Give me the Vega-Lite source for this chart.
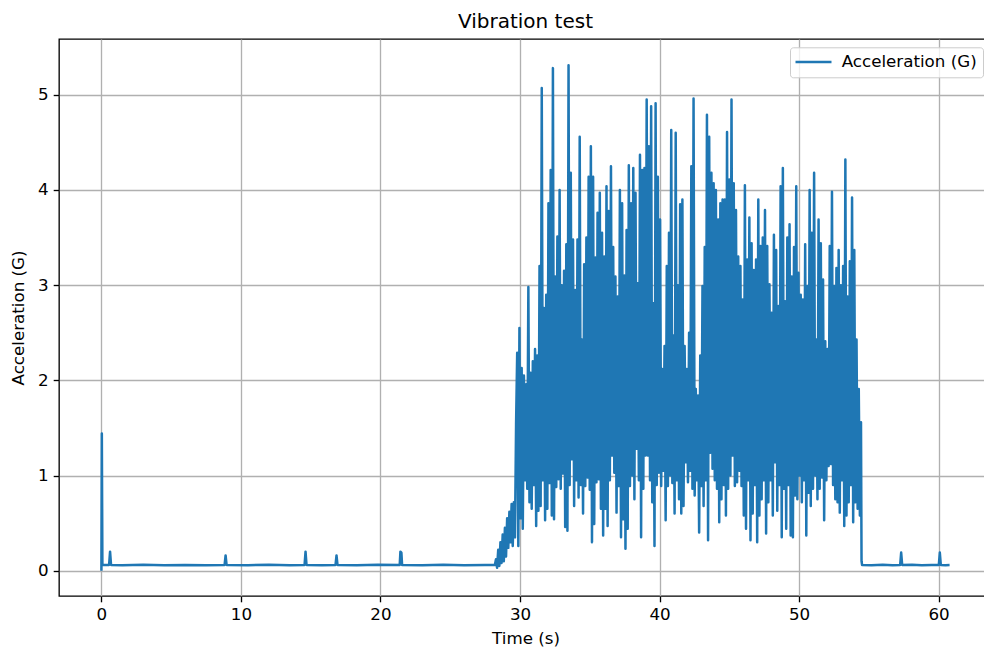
{
"$schema": "https://vega.github.io/schema/vega-lite/v6.json",
"autosize": {"type": "none"},
"padding": {"left": 59, "top": 39, "right": 0, "bottom": 51},
"width": 933,
"height": 557,
"title": {"text": "Vibration test", "fontSize": 20, "fontWeight": "normal", "font": "DejaVu Sans", "color": "#000000", "offset": 10, "baseline": "alphabetic", "anchor": "middle", "frame": "group", "dy": 19},
"data": {"values": [
{"t":0.0,"a":0.0},{"t":0.03,"a":1.44},{"t":0.07,"a":0.06},{"t":0.55,"a":0.06},{"t":0.62,"a":0.2},{"t":0.69,"a":0.06},
{"t":1.5,"a":0.058},{"t":3.0,"a":0.062},{"t":4.5,"a":0.057},{"t":6.0,"a":0.061},{"t":7.5,"a":0.058},
{"t":8.83,"a":0.06},{"t":8.9,"a":0.16},{"t":8.97,"a":0.06},{"t":10.5,"a":0.058},{"t":12.0,"a":0.062},{"t":13.5,"a":0.058},
{"t":14.56,"a":0.06},{"t":14.63,"a":0.2},{"t":14.7,"a":0.06},{"t":15.8,"a":0.058},{"t":16.78,"a":0.06},{"t":16.85,"a":0.16},{"t":16.92,"a":0.06},
{"t":18.3,"a":0.058},{"t":19.8,"a":0.062},{"t":21.38,"a":0.06},{"t":21.43,"a":0.2},{"t":21.5,"a":0.19},{"t":21.55,"a":0.06},
{"t":23.0,"a":0.058},{"t":24.5,"a":0.062},{"t":26.0,"a":0.058},{"t":27.5,"a":0.061},{"t":28.2,"a":0.06},
{"t":28.28,"a":0.12},{"t":28.36,"a":0.03},{"t":28.44,"a":0.22},{"t":28.52,"a":0.05},{"t":28.6,"a":0.3},{"t":28.68,"a":0.08},
{"t":28.76,"a":0.38},{"t":28.84,"a":0.1},{"t":28.92,"a":0.45},{"t":29.0,"a":0.15},{"t":29.08,"a":0.55},{"t":29.16,"a":0.24},
{"t":29.24,"a":0.62},{"t":29.32,"a":0.3},{"t":29.4,"a":0.7},{"t":29.48,"a":0.26},{"t":29.56,"a":0.72},{"t":29.64,"a":0.35},{"t":29.72,"a":1.54},
{"t":29.8,"a":2.29},{"t":29.88,"a":0.26},{"t":29.96,"a":2.55},{"t":30.04,"a":0.55},{"t":30.12,"a":2.13},{"t":30.2,"a":0.44},
{"t":30.28,"a":2.05},{"t":30.36,"a":0.95},{"t":30.44,"a":1.96},{"t":30.52,"a":0.86},{"t":30.6,"a":2.98},{"t":30.68,"a":0.72},
{"t":30.76,"a":2.08},{"t":30.84,"a":0.65},{"t":30.92,"a":2.2},{"t":31.0,"a":0.9},{"t":31.08,"a":2.33},{"t":31.16,"a":0.47},
{"t":31.24,"a":2.26},{"t":31.32,"a":0.63},{"t":31.4,"a":3.2},{"t":31.48,"a":0.68},{"t":31.56,"a":5.07},{"t":31.64,"a":0.95},
{"t":31.72,"a":2.76},{"t":31.8,"a":0.53},{"t":31.88,"a":2.9},{"t":31.96,"a":0.65},{"t":32.04,"a":3.86},{"t":32.12,"a":0.92},
{"t":32.2,"a":4.21},{"t":32.28,"a":0.58},{"t":32.36,"a":5.28},{"t":32.44,"a":0.54},{"t":32.52,"a":3.09},{"t":32.6,"a":0.88},
{"t":32.68,"a":3.51},{"t":32.76,"a":0.96},{"t":32.84,"a":4.0},{"t":32.92,"a":0.86},{"t":33.0,"a":3.0},{"t":33.08,"a":1.02},
{"t":33.16,"a":3.15},{"t":33.24,"a":0.46},{"t":33.32,"a":3.43},{"t":33.4,"a":0.42},{"t":33.48,"a":5.31},{"t":33.56,"a":0.9},
{"t":33.64,"a":4.18},{"t":33.72,"a":1.17},{"t":33.8,"a":3.48},{"t":33.88,"a":0.68},{"t":33.96,"a":2.95},{"t":34.04,"a":0.95},
{"t":34.12,"a":3.48},{"t":34.2,"a":0.77},{"t":34.28,"a":4.56},{"t":34.36,"a":0.9},{"t":34.44,"a":2.43},{"t":34.52,"a":0.6},
{"t":34.6,"a":3.22},{"t":34.68,"a":0.89},{"t":34.76,"a":3.5},{"t":34.84,"a":0.98},{"t":34.92,"a":4.14},{"t":35.0,"a":0.85},
{"t":35.08,"a":4.46},{"t":35.16,"a":0.3},{"t":35.24,"a":4.14},{"t":35.32,"a":0.49},{"t":35.4,"a":3.29},{"t":35.48,"a":0.93},
{"t":35.56,"a":3.76},{"t":35.64,"a":0.96},{"t":35.72,"a":3.97},{"t":35.8,"a":0.65},{"t":35.88,"a":3.55},{"t":35.96,"a":0.37},
{"t":36.04,"a":3.3},{"t":36.12,"a":0.65},{"t":36.2,"a":4.04},{"t":36.28,"a":0.47},{"t":36.36,"a":3.78},{"t":36.44,"a":0.95},
{"t":36.52,"a":4.25},{"t":36.6,"a":1.21},{"t":36.68,"a":3.4},{"t":36.76,"a":1.03},{"t":36.84,"a":3.09},{"t":36.92,"a":0.61},
{"t":37.0,"a":2.88},{"t":37.08,"a":0.89},{"t":37.16,"a":4.0},{"t":37.24,"a":0.35},{"t":37.32,"a":3.86},{"t":37.4,"a":0.54},
{"t":37.48,"a":3.1},{"t":37.56,"a":0.23},{"t":37.64,"a":3.58},{"t":37.72,"a":0.44},{"t":37.8,"a":4.26},{"t":37.88,"a":0.89},
{"t":37.96,"a":3.86},{"t":38.04,"a":1.0},{"t":38.12,"a":4.23},{"t":38.2,"a":0.75},{"t":38.28,"a":3.97},{"t":38.36,"a":1.28},
{"t":38.44,"a":3.02},{"t":38.52,"a":0.95},{"t":38.6,"a":4.37},{"t":38.68,"a":0.35},{"t":38.76,"a":4.21},{"t":38.84,"a":0.86},
{"t":38.92,"a":4.23},{"t":39.0,"a":1.21},{"t":39.08,"a":4.95},{"t":39.16,"a":1.21},{"t":39.24,"a":4.46},{"t":39.32,"a":0.95},
{"t":39.4,"a":4.88},{"t":39.48,"a":0.72},{"t":39.56,"a":2.81},{"t":39.64,"a":0.26},{"t":39.72,"a":4.91},{"t":39.8,"a":0.9},
{"t":39.88,"a":4.14},{"t":39.96,"a":1.03},{"t":40.04,"a":3.69},{"t":40.12,"a":0.89},{"t":40.2,"a":2.12},{"t":40.28,"a":1.05},
{"t":40.36,"a":2.36},{"t":40.44,"a":0.53},{"t":40.52,"a":3.2},{"t":40.6,"a":0.89},{"t":40.68,"a":3.55},{"t":40.76,"a":1.0},
{"t":40.84,"a":4.63},{"t":40.92,"a":0.92},{"t":41.0,"a":2.47},{"t":41.08,"a":0.6},{"t":41.16,"a":4.6},{"t":41.24,"a":0.95},
{"t":41.32,"a":3.0},{"t":41.4,"a":0.75},{"t":41.48,"a":3.85},{"t":41.56,"a":0.6},{"t":41.64,"a":3.9},{"t":41.72,"a":0.68},
{"t":41.8,"a":2.36},{"t":41.88,"a":1.14},{"t":41.96,"a":2.12},{"t":42.04,"a":0.93},{"t":42.12,"a":2.5},{"t":42.2,"a":1.05},
{"t":42.28,"a":4.25},{"t":42.36,"a":0.86},{"t":42.44,"a":4.96},{"t":42.52,"a":0.79},{"t":42.6,"a":1.91},{"t":42.68,"a":0.95},
{"t":42.76,"a":1.84},{"t":42.84,"a":0.4},{"t":42.92,"a":2.26},{"t":43.0,"a":0.89},{"t":43.08,"a":2.99},{"t":43.16,"a":0.68},
{"t":43.24,"a":3.4},{"t":43.32,"a":0.95},{"t":43.4,"a":4.79},{"t":43.48,"a":0.32},{"t":43.56,"a":4.56},{"t":43.64,"a":1.24},
{"t":43.72,"a":4.18},{"t":43.8,"a":1.07},{"t":43.88,"a":4.07},{"t":43.96,"a":0.95},{"t":44.04,"a":4.0},{"t":44.12,"a":0.86},
{"t":44.2,"a":3.69},{"t":44.28,"a":0.51},{"t":44.36,"a":3.86},{"t":44.44,"a":0.75},{"t":44.52,"a":3.9},{"t":44.6,"a":0.9},
{"t":44.68,"a":3.9},{"t":44.76,"a":0.58},{"t":44.84,"a":4.61},{"t":44.92,"a":0.86},{"t":45.0,"a":4.11},{"t":45.08,"a":1.0},
{"t":45.16,"a":4.95},{"t":45.24,"a":1.21},{"t":45.32,"a":4.07},{"t":45.4,"a":0.89},{"t":45.48,"a":3.79},{"t":45.56,"a":0.93},
{"t":45.64,"a":3.3},{"t":45.72,"a":1.05},{"t":45.8,"a":3.2},{"t":45.88,"a":0.89},{"t":45.96,"a":2.85},{"t":46.04,"a":0.58},
{"t":46.12,"a":4.05},{"t":46.2,"a":0.44},{"t":46.28,"a":3.27},{"t":46.36,"a":0.95},{"t":46.44,"a":3.71},{"t":46.52,"a":0.32},
{"t":46.6,"a":3.44},{"t":46.68,"a":0.6},{"t":46.76,"a":3.16},{"t":46.84,"a":0.9},{"t":46.92,"a":3.27},{"t":47.0,"a":0.3},
{"t":47.08,"a":3.9},{"t":47.16,"a":0.58},{"t":47.24,"a":3.41},{"t":47.32,"a":0.75},{"t":47.4,"a":3.5},{"t":47.48,"a":0.95},
{"t":47.56,"a":3.79},{"t":47.64,"a":0.39},{"t":47.72,"a":3.41},{"t":47.8,"a":0.72},{"t":47.88,"a":3.01},{"t":47.96,"a":0.95},
{"t":48.04,"a":2.71},{"t":48.12,"a":0.58},{"t":48.2,"a":3.53},{"t":48.28,"a":1.14},{"t":48.36,"a":3.37},{"t":48.44,"a":0.63},
{"t":48.52,"a":2.78},{"t":48.6,"a":0.9},{"t":48.68,"a":4.04},{"t":48.76,"a":0.35},{"t":48.84,"a":4.23},{"t":48.92,"a":0.86},
{"t":49.0,"a":2.83},{"t":49.08,"a":0.44},{"t":49.16,"a":3.5},{"t":49.24,"a":0.9},{"t":49.32,"a":3.64},{"t":49.4,"a":0.37},
{"t":49.48,"a":3.09},{"t":49.56,"a":0.35},{"t":49.64,"a":3.4},{"t":49.72,"a":0.79},{"t":49.8,"a":4.04},{"t":49.88,"a":0.75},
{"t":49.96,"a":3.13},{"t":50.04,"a":1.0},{"t":50.12,"a":2.9},{"t":50.2,"a":0.72},{"t":50.28,"a":2.85},{"t":50.36,"a":0.95},
{"t":50.44,"a":3.43},{"t":50.52,"a":0.37},{"t":50.6,"a":2.99},{"t":50.68,"a":0.82},{"t":50.76,"a":4.0},{"t":50.84,"a":0.68},
{"t":50.92,"a":3.55},{"t":51.0,"a":0.86},{"t":51.08,"a":4.18},{"t":51.16,"a":1.0},{"t":51.24,"a":2.43},{"t":51.32,"a":0.75},
{"t":51.4,"a":3.69},{"t":51.48,"a":0.86},{"t":51.56,"a":3.44},{"t":51.64,"a":0.98},{"t":51.72,"a":3.06},{"t":51.8,"a":0.53},
{"t":51.88,"a":2.41},{"t":51.96,"a":0.95},{"t":52.04,"a":2.33},{"t":52.12,"a":1.1},{"t":52.2,"a":3.41},{"t":52.28,"a":1.12},
{"t":52.36,"a":3.98},{"t":52.44,"a":0.9},{"t":52.52,"a":2.99},{"t":52.6,"a":0.75},{"t":52.68,"a":3.18},{"t":52.76,"a":0.72},
{"t":52.84,"a":3.37},{"t":52.92,"a":0.61},{"t":53.0,"a":3.0},{"t":53.08,"a":0.95},{"t":53.16,"a":3.2},{"t":53.24,"a":0.47},
{"t":53.32,"a":4.32},{"t":53.4,"a":0.58},{"t":53.48,"a":2.88},{"t":53.56,"a":0.72},{"t":53.64,"a":3.25},{"t":53.72,"a":0.9},
{"t":53.8,"a":3.92},{"t":53.88,"a":0.51},{"t":53.96,"a":3.37},{"t":54.04,"a":0.72},{"t":54.12,"a":2.43},{"t":54.2,"a":0.65},
{"t":54.28,"a":1.91},{"t":54.36,"a":0.58},{"t":54.44,"a":1.56},{"t":54.48,"a":0.1},{"t":54.52,"a":0.06},
{"t":55.2,"a":0.058},{"t":56.0,"a":0.062},{"t":56.7,"a":0.058},{"t":57.25,"a":0.06},{"t":57.32,"a":0.19},{"t":57.39,"a":0.06},
{"t":58.1,"a":0.062},{"t":58.8,"a":0.058},{"t":59.5,"a":0.061},{"t":60.02,"a":0.06},{"t":60.09,"a":0.19},{"t":60.16,"a":0.06},
{"t":60.5,"a":0.058},{"t":60.79,"a":0.06}
]},
"mark": {"type": "line", "strokeWidth": 2.5, "strokeJoin": "round", "clip": true},
"encoding": {
  "x": {"field": "t", "type": "quantitative", "scale": {"domain": [-3.04, 63.83], "nice": false, "zero": false},
        "axis": {"values": [0, 10, 20, 30, 40, 50, 60], "title": "Time (s)", "titlePadding": 7}},
  "y": {"field": "a", "type": "quantitative", "scale": {"domain": [-0.266, 5.586], "nice": false, "zero": false},
        "axis": {"values": [0, 1, 2, 3, 4, 5], "title": "Acceleration (G)", "titlePadding": 10}},
  "color": {"datum": "Acceleration (G)", "type": "nominal", "scale": {"range": ["#1f77b4"]},
            "legend": {"title": null, "orient": "none", "legendX": 731, "legendY": 8.3, "symbolType": "M-2.57,0H2.57", "symbolSize": 196, "symbolOffset": 8.7, "symbolStrokeWidth": 2.5, "symbolStrokeColor": "#1f77b4", "symbolFillColor": "transparent", "labelFontSize": 16.7, "labelFont": "DejaVu Sans", "labelColor": "#000000", "labelOffset": 19.7, "labelLimit": 300, "padding": 6.3, "fillColor": "rgba(255,255,255,0.8)", "strokeColor": "#cccccc", "cornerRadius": 3}}
},
"config": {
  "font": "DejaVu Sans",
  "background": "white",
  "view": {"stroke": "#000000", "strokeWidth": 1.33},
  "axis": {"labelFont": "DejaVu Sans", "labelFontSize": 16.7, "labelColor": "#000000", "labelPadding": 5, "labelOverlap": false, "labelBound": false, "labelFlush": false,
           "titleFont": "DejaVu Sans", "titleFontSize": 16.7, "titleFontWeight": "normal", "titleColor": "#000000",
           "tickColor": "#000000", "tickSize": 5.8, "tickWidth": 1.33, "domain": false,
           "grid": true, "gridColor": "#b0b0b0", "gridWidth": 1.33, "gridOpacity": 1}
}
}
